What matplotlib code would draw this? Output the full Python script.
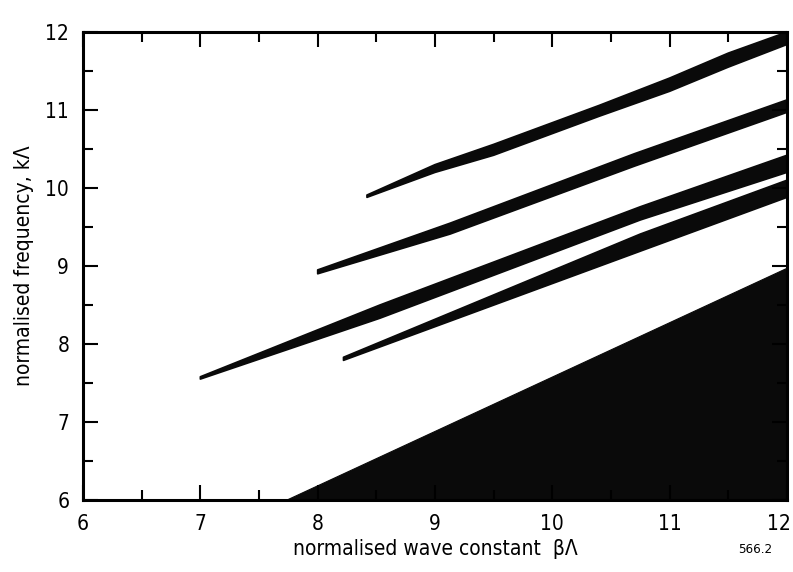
import matplotlib
matplotlib.use("Agg")
import matplotlib.pyplot as plt
from matplotlib.ticker import MultipleLocator
from matplotlib.transforms import ScaledTranslation

# ---- data ----
bandA_x_up = [8.42, 9.0, 9.5, 10.4, 11.0, 11.5, 12.0]
bandA_y_up = [9.91, 10.30, 10.56, 11.06, 11.41, 11.73, 12.0]
bandA_x_lo = [8.42, 9.0, 9.5, 10.4, 11.0, 11.5, 12.0]
bandA_y_lo = [9.88, 10.20, 10.42, 10.92, 11.24, 11.55, 11.84]

bandB_x_up = [8.0, 9.13, 10.7, 12.0]
bandB_y_up = [8.95, 9.55, 10.44, 11.13]
bandB_x_lo = [8.0, 9.13, 10.7, 12.0]
bandB_y_lo = [8.90, 9.41, 10.28, 10.97]

bandC_x_up = [7.0, 8.53, 10.75, 12.0]
bandC_y_up = [7.58, 8.50, 9.76, 10.42]
bandC_x_lo = [7.0, 8.53, 10.75, 12.0]
bandC_y_lo = [7.55, 8.33, 9.59, 10.20]

bandD_x_up = [8.22, 10.75, 12.0]
bandD_y_up = [7.83, 9.41, 10.10]
bandD_x_lo = [8.22, 10.75, 12.0]
bandD_y_lo = [7.79, 9.19, 9.88]

light_x = [7.74, 12.0, 12.0]
light_y = [6.0, 8.97, 6.0]

xticks = [6, 7, 8, 9, 10, 11, 12]
yticks = [6, 7, 8, 9, 10, 11, 12]

fam = ["DejaVu Sans"]
plt.rcParams["font.family"] = fam

fig = plt.figure(figsize=(7.93, 5.72), dpi=100)
ax = fig.add_axes([0.1047, 0.1259, 0.8877, 0.8181])

ink = "#0a0a0a"
for xu, yu, xl, yl in [
    (bandA_x_up, bandA_y_up, bandA_x_lo, bandA_y_lo),
    (bandB_x_up, bandB_y_up, bandB_x_lo, bandB_y_lo),
    (bandC_x_up, bandC_y_up, bandC_x_lo, bandC_y_lo),
    (bandD_x_up, bandD_y_up, bandD_x_lo, bandD_y_lo),
]:
    ax.fill(list(xu) + list(xl)[::-1], list(yu) + list(yl)[::-1],
            color=ink, lw=1.2, ec=ink, joinstyle="round", clip_on=True)

ax.fill(light_x, light_y, color=ink, lw=0.8, ec=ink)

ax.set_xlim(6, 12)
ax.set_ylim(6, 12)
ax.set_xticks(xticks)
ax.set_yticks(yticks)
ax.xaxis.set_minor_locator(MultipleLocator(0.5))
ax.yaxis.set_minor_locator(MultipleLocator(0.5))
ax.tick_params(which="both", direction="in", top=True, right=True,
               width=1.5, color="black")
ax.tick_params(which="major", length=11, labelsize=15, pad=10)
ax.tick_params(which="minor", length=7.5)
for sp in ax.spines.values():
    sp.set_linewidth(2.2)

for lab in ax.get_xticklabels() + ax.get_yticklabels():
    lab.set_fontstretch("condensed")
last = ax.get_xticklabels()[-1]
last.set_transform(last.get_transform() +
                   ScaledTranslation(-6 / 72, 0, fig.dpi_scale_trans))

ax.set_xlabel("normalised wave constant  \u03b2\u039b", fontsize=15,
              labelpad=4, fontstretch="condensed")
ax.set_ylabel("normalised frequency, k\u039b", fontsize=15,
              labelpad=8, fontstretch="condensed")

fig.text(0.952, 0.040, "566.2", fontsize=9.5, ha="center", va="center",
         fontstretch="condensed")

fig.savefig("out.png", dpi=100)
